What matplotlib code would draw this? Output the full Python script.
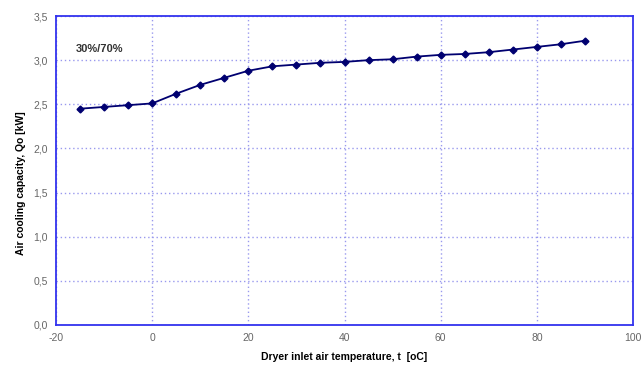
import numpy as np
import matplotlib.pyplot as plt
from matplotlib.ticker import FuncFormatter

# data
temp_in = [-15, -10, -5, 0, 5, 10, 15, 20, 25, 30, 35, 40, 45, 50, 55, 60, 65, 70, 75, 80, 85, 90]
q0 = [2.45, 2.47, 2.49, 2.51, 2.62, 2.72, 2.80, 2.88, 2.93, 2.95, 2.97, 2.98, 3.00, 3.01,
      3.04, 3.06, 3.07, 3.09, 3.12, 3.15, 3.18, 3.22]
x_ticks = [-20, 0, 20, 40, 60, 80, 100]
y_ticks = [0.0, 0.5, 1.0, 1.5, 2.0, 2.5, 3.0, 3.5]

plt.rcParams['font.family'] = ['Liberation Sans', 'DejaVu Sans']
plt.rcParams['axes.unicode_minus'] = False

fig = plt.figure(figsize=(6.42, 3.69), dpi=100)
ax = fig.add_axes([56/642, 1 - 325/369, (633-56)/642, (325-16)/369])

ax.plot(temp_in, q0, color='#000070', lw=1.3, marker='D', markersize=3.5)

ax.set_xlim(-20, 100)
ax.set_ylim(0, 3.5)
ax.set_xticks(x_ticks)
ax.set_yticks(y_ticks)
ax.yaxis.set_major_formatter(FuncFormatter(lambda v, p: ('%.1f' % v).replace('.', ',')))
ax.tick_params(length=0, labelsize=7.5, labelcolor='#666666', pad=6)
ax.grid(True, color='#9999ee', linestyle=(0, (1, 2)), lw=1)

for s in ax.spines.values():
    s.set_color('#3333ee')
    s.set_linewidth(1.3)

ax.set_xlabel('Dryer inlet air temperature, t  [oC]', fontsize=7.5, fontweight='bold', labelpad=6)
ax.set_ylabel('Air cooling capacity, Qo [kW]', fontsize=7.5, fontweight='bold')
ax.yaxis.set_label_coords(-30/577, 0.46)
ax.text(0.035, 0.885, '30%/70%', transform=ax.transAxes, fontsize=8, fontweight='bold', color='#333333')

fig.savefig('out.png', dpi=100)
